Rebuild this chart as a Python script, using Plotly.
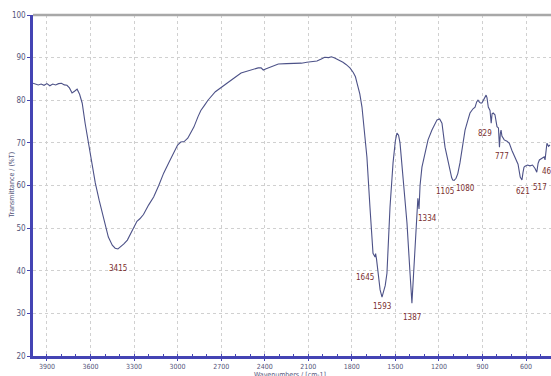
import plotly.graph_objects as go

# Spectrum trace
wavenumber = [3996, 3980, 3960, 3940, 3920, 3900, 3880, 3860, 3840, 3820, 3800, 3780, 3762,
              3745, 3727, 3710, 3692, 3675, 3657, 3637, 3620, 3602, 3585, 3567, 3540, 3519,
              3500, 3477, 3450, 3430, 3411, 3395, 3370, 3346, 3325, 3304, 3280, 3260, 3235,
              3200, 3165, 3130, 3096, 3060, 3027, 3000, 2978, 2955, 2930, 2910, 2888, 2860,
              2840, 2815, 2791, 2740, 2680, 2620, 2563, 2500, 2445, 2425, 2410, 2390, 2350,
              2306, 2250, 2200, 2147, 2110, 2077, 2040, 2010, 1987, 1960, 1940, 1918, 1900,
              1880, 1861, 1840, 1813, 1790, 1775, 1764, 1745, 1730, 1709, 1696, 1675, 1654,
              1640, 1636, 1630, 1620, 1605, 1592, 1580, 1570, 1558, 1550, 1537, 1516, 1500,
              1489, 1478, 1468, 1448, 1420, 1399, 1386, 1375, 1365, 1351, 1345, 1337, 1330,
              1317, 1296, 1275, 1248, 1230, 1213, 1195, 1179, 1158, 1140, 1124, 1112, 1105,
              1095, 1082, 1070, 1055, 1038, 1020, 1000, 986, 965, 951, 940, 931, 920, 910, 903,
              890, 875, 869, 860, 848, 840, 834, 826, 814, 807, 800, 790, 783, 777, 772, 766,
              750, 731, 715, 697, 675, 655, 640, 628, 621, 614, 607, 590, 573, 555, 538, 526,
              517, 508, 490, 475, 469, 461, 456, 445, 435, 428]
transmittance = [84.0, 83.9, 83.6, 83.8, 83.5, 83.9, 83.4, 83.8, 83.6, 83.9, 84.0, 83.6, 83.5,
                 82.9, 81.7, 82.1, 82.6, 81.4, 79.3, 74.6, 71.0, 68.3, 64.5, 60.6, 56.5, 53.5,
                 50.8, 47.9, 46.0, 45.3, 45.1, 45.5, 46.3, 47.2, 48.6, 50.2, 51.6, 52.2, 53.2,
                 55.4, 57.3, 60.0, 62.9, 65.4, 67.8, 69.5, 70.2, 70.3, 71.1, 72.3, 73.7, 76.1,
                 77.6, 78.8, 80.0, 82.0, 83.6, 85.0, 86.4, 87.1, 87.6, 87.6, 87.1, 87.4, 88.0,
                 88.5, 88.6, 88.6, 88.7, 88.9, 89.0, 89.2, 89.7, 90.1, 90.0, 90.2, 89.9, 89.6,
                 89.3, 88.9, 88.4, 87.6, 86.5, 85.5, 84.0, 81.5, 78.4, 71.4, 66.7, 54.9, 44.1,
                 43.2, 44.0, 42.8, 39.4, 35.5, 33.8, 35.0, 36.5, 39.4, 45.0, 54.9, 65.3, 70.5,
                 72.3, 71.8, 70.0, 62.9, 51.2, 39.4, 32.4, 39.0, 45.5, 55.9, 57.0, 54.5, 60.0,
                 64.3, 67.6, 70.7, 73.0, 74.4, 75.4, 75.6, 74.6, 69.0, 66.0, 63.6, 61.8, 61.3,
                 61.2, 61.7, 62.8, 65.3, 69.5, 73.0, 75.4, 77.0, 78.0, 78.4, 79.6, 80.0, 79.5,
                 79.3, 79.4, 80.4, 81.2, 80.6, 78.4, 77.6, 74.6, 76.8, 77.0, 76.6, 75.4, 73.8,
                 73.5, 69.0, 72.2, 73.0, 71.6, 70.7, 70.4, 69.9, 68.2, 66.4, 65.0, 62.0, 61.3,
                 63.0, 64.3, 64.5, 64.8, 64.6, 64.8, 64.0, 63.1, 65.2, 66.0, 66.4, 66.7, 66.0,
                 69.0, 69.9, 69.2, 69.5]

# Peak labels: text, and where the label sits (wavenumber, %T)
peak_text = ["3415", "1645", "1593", "1387", "1334", "1105", "1080", "829", "777", "621", "517", "461"]
peak_lab_x = [3411, 1709, 1592, 1386, 1282, 1158, 1020, 883, 766, 621, 504, 442]
peak_lab_y = [40.6, 38.5, 31.5, 29.1, 52.3, 58.5, 59.4, 72.3, 66.7, 58.5, 59.6, 63.4]

x_ticks = [3900, 3600, 3300, 3000, 2700, 2400, 2100, 1800, 1500, 1200, 900, 600]
y_ticks = [20, 30, 40, 50, 60, 70, 80, 90, 100]

axis_blue = "#4444b4"
text_col = "#55557a"
label_col = "#7a2e2e"
font_fam = "DejaVu Sans Condensed, Liberation Sans Narrow, Arial"

fig = go.Figure()
fig.add_trace(go.Scatter(x=wavenumber, y=transmittance, mode="lines",
                         line=dict(color="#4d5288", width=1.1), hoverinfo="skip",
                         showlegend=False))

for t, lx, ly in zip(peak_text, peak_lab_x, peak_lab_y):
    fig.add_annotation(x=lx, y=ly, text=t, showarrow=False,
                       font=dict(family=font_fam, size=8, color=label_col))

fig.add_annotation(xref="paper", yref="paper", x=0.496, y=-0.041, yanchor="top",
                   text="Wavenumbers / [cm-1]", showarrow=False, borderpad=0,
                   font=dict(family=font_fam, size=7, color=text_col))
fig.add_annotation(xref="paper", yref="paper", x=-0.041, y=0.5, textangle=-90,
                   xanchor="center", yanchor="middle",
                   text="Transmittance / (%T)", showarrow=False,
                   font=dict(family=font_fam, size=7, color=text_col))

fig.add_shape(type="line", xref="paper", yref="paper", x0=0, x1=1, y0=1, y1=1,
              line=dict(color="#a8a8a8", width=2.5))

fig.update_layout(
    width=551, height=376,
    margin=dict(l=33, r=0, t=15, b=20),
    paper_bgcolor="white", plot_bgcolor="white",
    font=dict(family=font_fam, size=8, color=text_col),
    xaxis=dict(range=[3996, 428], tickvals=x_ticks, ticktext=[str(v) for v in x_ticks],
               showgrid=True, gridcolor="#d0d0d0", griddash="dot", gridwidth=1,
               showline=True, linecolor=axis_blue, linewidth=2.5, zeroline=False,
               ticks="outside", ticklen=2, tickcolor=axis_blue,
               minor=dict(dtick=100, tick0=0, ticks="inside", ticklen=2, tickcolor=axis_blue, showgrid=False),
               tickfont=dict(size=7, color=text_col)),
    yaxis=dict(range=[20, 100], tickvals=y_ticks, ticktext=[str(v) for v in y_ticks],
               showgrid=True, gridcolor="#d0d0d0", griddash="dot", gridwidth=1,
               showline=True, linecolor=axis_blue, linewidth=2.5, zeroline=False,
               ticks="outside", ticklen=3, tickcolor=axis_blue,
               tickfont=dict(size=8, color=text_col)),
)

fig.write_html("out.html", config={"displayModeBar": False},
               post_script="document.body.style.margin='0';document.body.style.overflow='hidden';")
